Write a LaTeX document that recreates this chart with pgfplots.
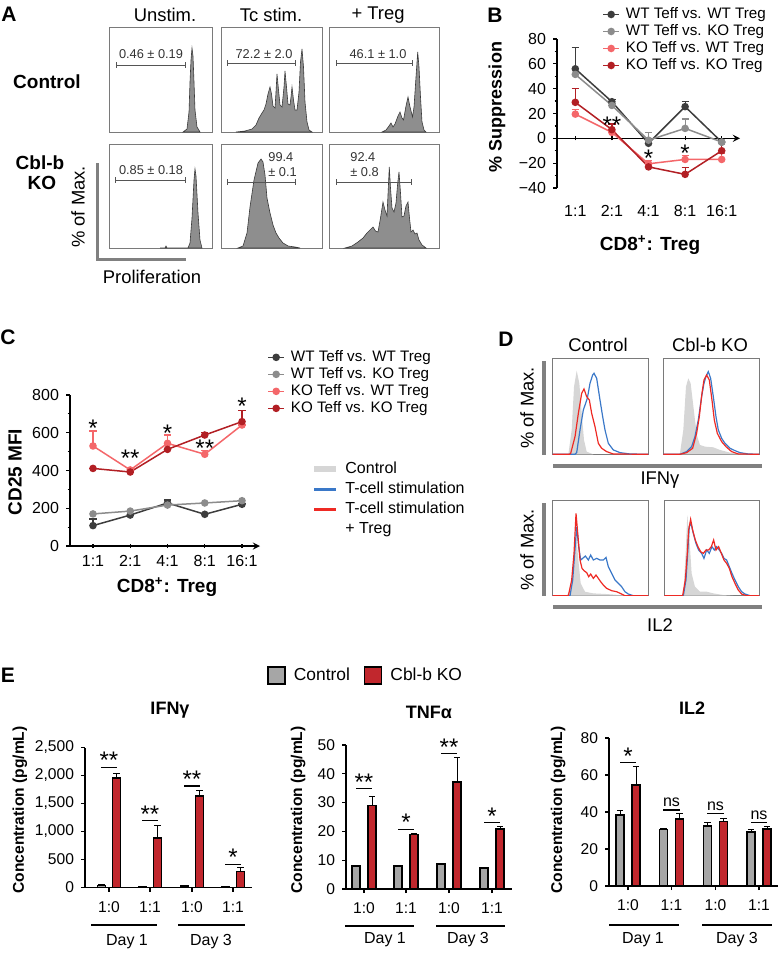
\documentclass[border=0pt]{standalone}
\usepackage{fontspec}
\setmainfont{Liberation Sans}
\usepackage{pgfplots}
\pgfplotsset{compat=1.18}

\definecolor{cdk}{HTML}{3D3D3D}
\definecolor{cgr}{HTML}{8C8C8C}
\definecolor{clr}{HTML}{F4676A}
\definecolor{cdr}{HTML}{B21F24}
\definecolor{histfill}{HTML}{8E8E8E}
\definecolor{histline}{HTML}{3A3A3A}
\definecolor{boxc}{HTML}{7A7A7A}
\definecolor{dgray}{HTML}{D6D6D6}
\definecolor{dblue}{HTML}{3A78C8}
\definecolor{dred}{HTML}{EE2A24}
\definecolor{bargray}{HTML}{A6A6A6}
\definecolor{barred}{HTML}{C1272D}
\definecolor{lgray}{HTML}{808080}
\definecolor{gatec}{HTML}{555555}

\pgfplotsset{
 histbox/.style={scale only axis, anchor=south west, ticks=none,
   axis line style={boxc, line width=0.5pt}, ymin=0},
 histA/.style={fill=histfill, draw=histline, line width=0.3pt},
 linechart/.style={scale only axis, anchor=south west, axis y line=left,
   axis line style={-, line width=0.6pt, black}, tick align=outside,
   major tick length=2pt, minor tick length=1.2pt,
   tick style={black, line width=0.6pt},
   tick label style={font=\fontsize{8}{9}\selectfont},
   xtick={0,...,4}, xticklabels={1:1,2:1,4:1,8:1,16:1}, clip=false,
   legend cell align=left,
   legend image code/.code={\draw[mark repeat=2, mark phase=2, ##1] plot coordinates {(0pt,0pt) (4pt,0pt) (8pt,0pt)};},
   legend style={draw=none, fill=none, anchor=north west,
     font=\fontsize{7.6}{8}\selectfont, inner sep=0pt, row sep=0.5pt,
     /tikz/every odd column/.append style={column sep=2.5pt},
     nodes={inner sep=0.5pt, text height=5.5pt, text depth=1.5pt}}},
 dleg/.style={legend image code/.code={\draw[##1] (0pt,0pt) -- (11pt,0pt);}},
 sqleg/.style={legend image code/.code={\draw[##1] (0pt,-4.25pt) rectangle (8.5pt,4.25pt);}},
 ser/.style={color=#1, mark=*, mark size=1.5pt, line width=0.75pt, mark options={solid}},
 err/.style={error bars/y dir=plus, error bars/y explicit,
   error bars/error bar style={line width=0.6pt},
   error bars/error mark options={rotate=90, mark size=1.8pt, line width=0.6pt}},
 barchart/.style={scale only axis, anchor=south west, axis lines=left,
   axis line style={-, line width=0.6pt, black}, tick align=outside,
   major tick length=2pt, tick style={black, line width=0.6pt},
   tick label style={font=\fontsize{7.8}{9}\selectfont},
   xticklabel style={yshift=-1.5pt}, ymin=0, clip=false},
 bars/.style={ybar, bar width=8, bar shift=0pt, fill=#1, draw=black, line width=0.75pt, forget plot,
   error bars/y dir=plus, error bars/y explicit,
   error bars/error bar style={line width=0.5pt, black},
   error bars/error mark options={rotate=90, mark size=1.6pt, line width=0.5pt, black}},
}
\tikzset{
 starc/.style={anchor=base, inner sep=0pt, font=\fontsize{12}{12}\selectfont, yshift=-7pt},
 stars/.style={anchor=base, inner sep=0pt, font=\fontsize{12}{12}\selectfont, yshift=-0.8pt},
 nss/.style={anchor=base, inner sep=0pt, font=\fontsize{8}{9}\selectfont, yshift=1.5pt},
}

\begin{document}
\begin{tikzpicture}
\useasboundingbox (0,0) rectangle (389pt,-476.5pt);

% ================= Panel A =================
\begin{axis}[histbox, at={(54.5pt,-66pt)}, width=51.5pt, height=52pt, xmin=109, xmax=212, ymax=104]
\addplot[histA] coordinates {(183,0) (187,3) (189,20) (190,50) (191,72) (192,84) (193,76) (194,50) (195,22) (197,5) (200,0)} \closedcycle;
\end{axis}
\begin{axis}[histbox, at={(110.5pt,-66pt)}, width=50.5pt, height=52pt, xmin=221, xmax=322, ymax=104]
\addplot[histA] coordinates {(236,0) (245,1) (252,3) (256,7) (259,14) (262,19) (264,22) (266,28) (268,38) (270,45) (271.5,38) (273,26) (275,24) (276,40) (277,58) (278.5,42) (280,27) (282,25) (284,45) (285,61) (286.5,45) (288,28) (290,27) (291,35) (292,45) (293.5,32) (295,22) (297,22) (299,40) (300.5,70) (302,83) (303.5,65) (305,30) (307,10) (309,2) (312,0)} \closedcycle;
\end{axis}
\begin{axis}[histbox, at={(164.5pt,-66pt)}, width=55pt, height=52pt, xmin=329, xmax=439, ymax=104]
\addplot[histA] coordinates {(382,0) (386,2) (389,6) (391,9) (393,5) (395,8) (398,16) (400,20) (402,14) (403.5,12) (406,26) (408,35) (410,25) (412.5,15) (414,25) (416,55) (417.7,80) (419,65) (420.5,35) (422,10) (424,2) (426,0)} \closedcycle;
\end{axis}
\begin{axis}[histbox, at={(54.5pt,-124pt)}, width=51.5pt, height=52pt, xmin=109, xmax=212, ymax=104]
\addplot[histA] coordinates {(160,0) (165,0) (166,2) (167,0) (188,0) (190,5) (192,30) (194,68) (195,79) (196,72) (198,35) (200,8) (202,0)} \closedcycle;
\end{axis}
\begin{axis}[histbox, at={(110.5pt,-124pt)}, width=50.5pt, height=52pt, xmin=221, xmax=322, ymax=104]
\addplot[histA] coordinates {(238,0) (243,2) (247,15) (250,41) (254,68) (258,85) (261,89) (263,86) (265,73) (267,50) (270,35) (273,23) (276,15) (279,10) (283,5) (288,2) (295,1) (300,0)} \closedcycle;
\end{axis}
\begin{axis}[histbox, at={(164.5pt,-124pt)}, width=55pt, height=52pt, xmin=329, xmax=439, ymax=104]
\addplot[histA] coordinates {(345,0) (352,2) (358,6) (363,10) (367,15) (370,18) (373,21) (375.5,17) (378,16) (380.5,30) (383,46) (385,38) (387,32) (388.3,60) (389.3,81) (390.5,60) (392,40) (394,36) (396,45) (397.7,65) (399,76) (400.5,55) (402,31) (404,32) (406,42) (408,46) (409.5,30) (411,16) (413,18) (415,14) (417,15) (419,8) (422,3) (426,0)} \closedcycle;
\end{axis}

% ================= Panel B =================
\begin{axis}[linechart, at={(278.5pt,-94pt)}, width=91.5pt, height=74.5pt,
  axis x line=middle, hide obscured x ticks=false, hide obscured y ticks=false,
  xmin=-0.5, xmax=4.5, ymin=-40, ymax=80,
  ytick={-40,-20,0,20,40,60,80}, yticklabels={−40,−20,0,20,40,60,80},
  minor y tick num=1, xticklabel style={yshift=-29pt},
  legend style={at={(0.246,1.221)}}]
\addplot[ser=cdk, err] coordinates {(0,56) +- (0,17) (1,29.5) +- (0,2) (2,-4) +- (0,0) (3,25.5) +- (0,4) (4,-3) +- (0,1.5)};
\addplot[ser=cgr, err] coordinates {(0,51.5) +- (0,0) (1,26.5) +- (0,1.5) (2,-1.5) +- (0,6.5) (3,8) +- (0,7.5) (4,-3) +- (0,0)};
\addplot[ser=clr, err] coordinates {(0,19.5) +- (0,3.5) (1,4.8) +- (0,0) (2,-20.5) +- (0,2.5) (3,-17) +- (0,3) (4,-17) +- (0,5)};
\addplot[ser=cdr, err] coordinates {(0,29) +- (0,11) (1,7) +- (0,4.5) (2,-23) +- (0,0) (3,-29) +- (0,5.5) (4,-10) +- (0,7)};
\legend{WT Teff vs. WT Treg, WT Teff vs. KO Treg, KO Teff vs. WT Treg, KO Teff vs. KO Treg}
\node[starc] at (axis cs:1,15) {**};
\node[starc] at (axis cs:2,-11.5) {*};
\node[starc] at (axis cs:3,-7) {*};
\end{axis}

% ================= Panel C =================
\begin{axis}[linechart, at={(35pt,-273pt)}, width=95pt, height=75.5pt,
  axis x line=bottom, xmin=-0.617, xmax=4.483, ymin=0, ymax=800,
  ytick={0,200,400,600,800}, yticklabels={0,200,400,600,800}, minor y tick num=1,
  legend style={at={(1.037,1.305)}}]
\addplot[ser=cdk, err] coordinates {(0,108) +- (0,35) (1,164) +- (0,0) (2,228) +- (0,16) (3,168) +- (0,0) (4,221) +- (0,5)};
\addplot[ser=cgr] coordinates {(0,170) (1,185) (2,217) (3,228) (4,240)};
\addplot[ser=clr, err] coordinates {(0,530) +- (0,79) (1,403) +- (0,5) (2,544) +- (0,44) (3,486) +- (0,19) (4,641) +- (0,0)};
\addplot[ser=cdr, err] coordinates {(0,411) +- (0,0) (1,392) +- (0,0) (2,512) +- (0,0) (3,588) +- (0,14) (4,659) +- (0,61)};
\legend{WT Teff vs. WT Treg, WT Teff vs. KO Treg, KO Teff vs. WT Treg, KO Teff vs. KO Treg}
\node[starc] at (axis cs:0,655) {*};
\node[starc] at (axis cs:1,495) {**};
\node[starc] at (axis cs:2,628) {*};
\node[starc] at (axis cs:3,548) {**};
\node[starc] at (axis cs:4,770) {*};
\end{axis}

% ================= Panel D =================
\begin{axis}[histbox, at={(276.35pt,-227.15pt)}, width=47.8pt, height=48pt, xmin=758, xmax=1045, ymax=288,
  legend cell align=left, dleg,
  legend style={at={(-2.528,-0.059)}, anchor=north west, draw=none, fill=none,
    font=\fontsize{8}{9}\selectfont, inner sep=0pt, row sep=1pt,
    /tikz/every odd column/.append style={column sep=2.5pt},
    nodes={inner sep=0.5pt, text height=6pt, text depth=2pt}}]
\addplot[fill=dgray, draw=none, forget plot] coordinates {(800,0) (805,0) (815,73) (822,203) (830,251) (838,213) (845,123) (852,43) (860,8) (880,0)} \closedcycle;
\addplot[dblue, line width=0.6pt, forget plot] coordinates {(758,0) (825,0) (830,5) (840,73) (850,133) (862,168) (870,213) (878,238) (882,243) (890,228) (900,163) (908,113) (915,73) (925,33) (940,13) (960,5) (990,1) (1045,0)};
\addplot[dred, line width=0.6pt, forget plot] coordinates {(758,0) (808,0) (812,3) (825,53) (835,123) (845,183) (852,196) (860,173) (868,163) (875,123) (885,83) (895,33) (905,18) (920,8) (940,1) (1045,0)};
\addlegendimage{line width=3pt, dgray}
\addlegendentry{Control}
\addlegendimage{line width=1.6pt, dblue}
\addlegendentry{T-cell stimulation}
\addlegendimage{line width=1.6pt, dred}
\addlegendentry{T-cell stimulation}
\addlegendimage{empty legend}
\addlegendentry{+ Treg}
\end{axis}
\begin{axis}[histbox, at={(331.65pt,-227.15pt)}, width=48pt, height=48pt, xmin=1090, xmax=1378, ymax=288]
\addplot[fill=dgray, draw=none] coordinates {(1135,0) (1140,3) (1150,73) (1158,203) (1165,228) (1172,213) (1178,163) (1185,103) (1192,53) (1200,28) (1215,23) (1240,21) (1260,13) (1290,5) (1320,1) (1340,0)} \closedcycle;
\addplot[dblue, line width=0.6pt] coordinates {(1090,0) (1140,0) (1160,8) (1175,23) (1185,53) (1195,103) (1205,173) (1212,213) (1218,233) (1225,248) (1232,228) (1240,173) (1248,113) (1255,73) (1265,48) (1275,33) (1290,18) (1305,11) (1320,5) (1345,1) (1378,0)};
\addplot[dred, line width=0.6pt] coordinates {(1090,0) (1140,0) (1160,5) (1178,18) (1190,63) (1198,113) (1206,183) (1212,223) (1220,238) (1228,223) (1236,163) (1243,103) (1252,63) (1265,38) (1278,23) (1295,8) (1315,1) (1378,0)};
\end{axis}
\begin{axis}[histbox, at={(276.35pt,-297.85pt)}, width=47.8pt, height=47.85pt, xmin=758, xmax=1045, ymax=287]
\addplot[fill=dgray, draw=none] coordinates {(795,0) (800,0) (815,27) (822,107) (828,187) (835,107) (842,37) (855,12) (880,7) (920,5) (960,2) (1000,0)} \closedcycle;
\addplot[dblue, line width=0.6pt] coordinates {(758,0) (810,0) (818,47) (824,127) (830,207) (836,147) (842,107) (848,112) (856,119) (865,107) (872,122) (880,107) (890,112) (900,107) (910,107) (918,115) (925,87) (935,67) (945,47) (955,37) (965,27) (975,12) (985,5) (1000,0) (1045,0)};
\addplot[dred, line width=0.6pt] coordinates {(758,0) (805,0) (815,47) (822,127) (828,247) (834,177) (840,107) (846,82) (852,75) (860,69) (866,57) (872,65) (880,52) (888,62) (895,52) (902,42) (910,32) (920,22) (935,15) (950,12) (965,5) (975,0) (1045,0)};
\end{axis}
\begin{axis}[histbox, at={(332.15pt,-297.85pt)}, width=47.5pt, height=47.85pt, xmin=1093, xmax=1378, ymax=287]
\addplot[fill=dgray, draw=none] coordinates {(1145,0) (1150,0) (1157,127) (1162,242) (1168,177) (1175,67) (1185,27) (1200,12) (1220,12) (1240,7) (1270,2) (1300,0)} \closedcycle;
\addplot[dblue, line width=0.6pt] coordinates {(1093,0) (1150,0) (1158,47) (1163,127) (1168,207) (1173,217) (1180,187) (1188,157) (1196,137) (1205,127) (1212,112) (1220,137) (1228,127) (1236,147) (1243,137) (1250,147) (1258,137) (1265,127) (1272,112) (1280,107) (1288,87) (1296,67) (1305,47) (1315,27) (1325,12) (1335,5) (1350,0) (1378,0)};
\addplot[dred, line width=0.6pt] coordinates {(1093,0) (1148,0) (1156,47) (1162,127) (1166,197) (1172,229) (1178,197) (1186,167) (1194,147) (1202,132) (1210,127) (1218,137) (1226,137) (1234,147) (1241,167) (1248,137) (1256,147) (1264,127) (1272,107) (1280,97) (1288,82) (1296,57) (1305,37) (1315,17) (1325,5) (1340,0) (1378,0)};
\end{axis}

% ================= Panel E =================
\begin{axis}[barchart, at={(42.5pt,-443.75pt)}, width=83.5pt, height=70pt,
  xmin=85, xmax=252, ymax=2500, ytick={0,500,1000,1500,2000,2500},
  yticklabels={0,500,{1,000},{1,500},{2,000},{2,500}},
  xtick={109,150,192,233}, xticklabels={1:0,1:1,1:0,1:1}]
\addplot[bars=bargray] coordinates {(101.5,40) +- (0,10) (142.5,10) +- (0,3) (184.5,25) +- (0,8) (225.5,8) +- (0,3)};
\addplot[bars=barred] coordinates {(116.5,1960) +- (0,80) (157.5,880) +- (0,220) (199.5,1630) +- (0,110) (240.5,290) +- (0,70)};
\draw[line width=0.6pt] (axis cs:101,2150) -- (axis cs:117,2150);
\node[stars] at (axis cs:109,2150) {**};
\draw[line width=0.6pt] (axis cs:142,1195) -- (axis cs:158,1195);
\node[stars] at (axis cs:150,1195) {**};
\draw[line width=0.6pt] (axis cs:184,1812) -- (axis cs:200,1812);
\node[stars] at (axis cs:192,1812) {**};
\draw[line width=0.6pt] (axis cs:225,418) -- (axis cs:241,418);
\node[stars] at (axis cs:233,418) {*};
\end{axis}
\begin{axis}[barchart, at={(173pt,-444.5pt)}, width=83pt, height=72pt,
  xmin=346, xmax=512, ymax=50, ytick={0,10,20,30,40,50},
  yticklabels={0,10,20,30,40,50},
  xtick={364,406,449,492}, xticklabels={1:0,1:1,1:0,1:1},
  legend columns=2, sqleg,
  legend style={at={(-0.476,1.569)}, anchor=north west, draw=none, fill=none,
    font=\fontsize{8.7}{10}\selectfont, inner sep=0pt,
    /tikz/every odd column/.append style={column sep=2pt},
    /tikz/every even column/.append style={column sep=5pt}}]
\addplot[bars=bargray] coordinates {(356,8.0) +- (0,0.2) (398,8.0) +- (0,0.3) (441,8.7) +- (0,0.3) (484,7.3) +- (0,0.2)};
\addplot[bars=barred] coordinates {(372,29) +- (0,3.1) (414,19) +- (0,0.3) (457,37.2) +- (0,8.3) (500,20.8) +- (0,1.0)};
\addlegendimage{fill=bargray, draw=black, line width=0.75pt}
\addlegendentry{Control}
\addlegendimage{fill=barred, draw=black, line width=0.75pt}
\addlegendentry{Cbl-b KO}
\draw[line width=0.6pt] (axis cs:356,34.8) -- (axis cs:372,34.8);
\node[stars] at (axis cs:364,34.8) {**};
\draw[line width=0.6pt] (axis cs:398,20.8) -- (axis cs:414,20.8);
\node[stars] at (axis cs:406,20.8) {*};
\draw[line width=0.6pt] (axis cs:441,47) -- (axis cs:457,47);
\node[stars] at (axis cs:449,47) {**};
\draw[line width=0.6pt] (axis cs:484,23) -- (axis cs:500,23);
\node[stars] at (axis cs:492,23) {*};
\end{axis}
\begin{axis}[barchart, at={(304.5pt,-443pt)}, width=84.5pt, height=74pt,
  xmin=609, xmax=778, ymax=80, ytick={0,20,40,60,80},
  yticklabels={0,20,40,60,80},
  xtick={628,671.5,715.5,759}, xticklabels={1:0,1:1,1:0,1:1}]
\addplot[bars=bargray] coordinates {(620,38.4) +- (0,2.6) (663.5,30.5) +- (0,0.7) (707.5,32.4) +- (0,1.8) (751,29.2) +- (0,1.6)};
\addplot[bars=barred] coordinates {(636,54.5) +- (0,10) (679.5,36.2) +- (0,3.1) (723.5,34.8) +- (0,1.7) (767,30.8) +- (0,1.4)};
\draw[line width=0.6pt] (axis cs:620,66.7) -- (axis cs:636,66.7);
\node[stars] at (axis cs:628,66.7) {*};
\draw[line width=0.6pt] (axis cs:663,41.1) -- (axis cs:680,41.1);
\node[nss] at (axis cs:671.5,41.1) {ns};
\draw[line width=0.6pt] (axis cs:707,39.3) -- (axis cs:724,39.3);
\node[nss] at (axis cs:715.5,39.3) {ns};
\draw[line width=0.6pt] (axis cs:751,34.4) -- (axis cs:767,34.4);
\node[nss] at (axis cs:759,34.4) {ns};
\end{axis}

% ================= Text and decorations (pixel grid) =================
\begin{scope}[x=0.5pt, y=-0.5pt]
 \tikzset{pl/.style={font=\bfseries\fontsize{10.5}{12}\selectfont, inner sep=0pt},
          t9/.style={font=\fontsize{9.2}{11}\selectfont, inner sep=0pt},
          b9/.style={font=\bfseries\fontsize{9.5}{11}\selectfont, inner sep=0pt},
          g6/.style={font=\fontsize{6.4}{7.5}\selectfont, inner sep=0pt, text=black!80}}
 % A
 \node[pl] at (9,14) {A};
 \node[t9] at (165,15) {Unstim.};
 \node[t9] at (271,15) {Tc stim.};
 \node[t9] at (378,15) {+ Treg};
 \node[b9] at (47,82) {Control};
 \node[b9] at (40,163) {Cbl-b};
 \node[b9] at (42,183) {KO};
 \node[t9, rotate=90] at (78,207) {\% of Max.};
 \draw[lgray, line width=1.5pt] (97,163) -- (97,259) -- (186,259);
 \node[t9] at (152,277) {Proliferation};
 \begin{scope}[gatec, line width=0.5pt]
  \draw (116,65) -- (185,65); \draw (116,62) -- (116,68); \draw (185,62) -- (185,68);
  \draw (227,63) -- (295,63); \draw (227,60) -- (227,66); \draw (295,60) -- (295,66);
  \draw (336,63) -- (412,63); \draw (336,60) -- (336,66); \draw (412,60) -- (412,66);
  \draw (115,180) -- (185,180); \draw (115,177) -- (115,183); \draw (185,177) -- (185,183);
  \draw (227,182) -- (295,182); \draw (227,179) -- (227,185); \draw (295,179) -- (295,185);
  \draw (336,182) -- (411,182); \draw (336,179) -- (336,185); \draw (411,179) -- (411,185);
 \end{scope}
 \node[g6] at (151,54) {0.46 ± 0.19};
 \node[g6] at (264,54) {72.2 ± 2.0};
 \node[g6] at (378,54) {46.1 ± 1.0};
 \node[g6] at (151,170) {0.85 ± 0.18};
 \node[g6, anchor=west] at (268,157) {99.4};
 \node[g6, anchor=west] at (268,172) {± 0.1};
 \node[g6, anchor=west] at (350,157) {92.4};
 \node[g6, anchor=west] at (350,172) {± 0.8};
 % B
 \node[pl] at (495,15) {B};
 \node[font=\bfseries\fontsize{9}{11}\selectfont, rotate=90] at (497,107) {\% Suppression};
 \node[b9] at (650,245) {CD8\textsuperscript{+}: Treg};
 % C
 \node[pl] at (8,337) {C};
 \node[b9, rotate=90] at (15,472) {CD25 MFI};
 \node[b9] at (167,587) {CD8\textsuperscript{+}: Treg};
 % D
 \node[pl] at (506,339) {D};
 \node[t9] at (598,345) {Control};
 \node[t9] at (710,345) {Cbl-b KO};
 \draw[lgray, line width=1.6pt] (544,361) -- (544,455);
 \draw[lgray, line width=1.6pt] (544,503) -- (544,596);
 \draw[lgray, line width=1.6pt] (553,466) -- (762,466);
 \draw[lgray, line width=1.6pt] (553,607) -- (762,607);
 \node[t9, rotate=90] at (527,408) {\% of Max.};
 \node[t9, rotate=90] at (527,550) {\% of Max.};
 \node[t9] at (660,480) {IFNγ};
 \node[t9] at (660,625) {IL2};
 % E
 \node[pl] at (8,675) {E};
 \node[font=\bfseries\fontsize{9}{11}\selectfont] at (170,710) {IFNγ};
 \node[font=\bfseries\fontsize{9}{11}\selectfont] at (429,712) {TNFα};
 \node[font=\bfseries\fontsize{9}{11}\selectfont] at (692,708) {IL2};
 \node[font=\bfseries\fontsize{7.8}{9}\selectfont, rotate=90] at (20,810) {Concentration (pg/mL)};
 \node[font=\bfseries\fontsize{7.8}{9}\selectfont, rotate=90] at (298,810) {Concentration (pg/mL)};
 \node[font=\bfseries\fontsize{7.8}{9}\selectfont, rotate=90] at (558,810) {Concentration (pg/mL)};
 \begin{scope}[line width=1pt]
  \draw (91,925) -- (157,925); \draw (178,925) -- (245,925);
  \draw (345,926) -- (414,926); \draw (436,926) -- (505,926);
  \draw (609,925) -- (679,925); \draw (702,925) -- (772,925);
 \end{scope}
 \tikzset{d8/.style={font=\fontsize{8}{9}\selectfont, inner sep=0pt}}
 \node[d8] at (127,942) {Day 1};
 \node[d8] at (211,942) {Day 3};
 \node[d8] at (385,940) {Day 1};
 \node[d8] at (468,940) {Day 3};
 \node[d8] at (643,940) {Day 1};
 \node[d8] at (737,940) {Day 3};
\end{scope}
\end{tikzpicture}
\end{document}
